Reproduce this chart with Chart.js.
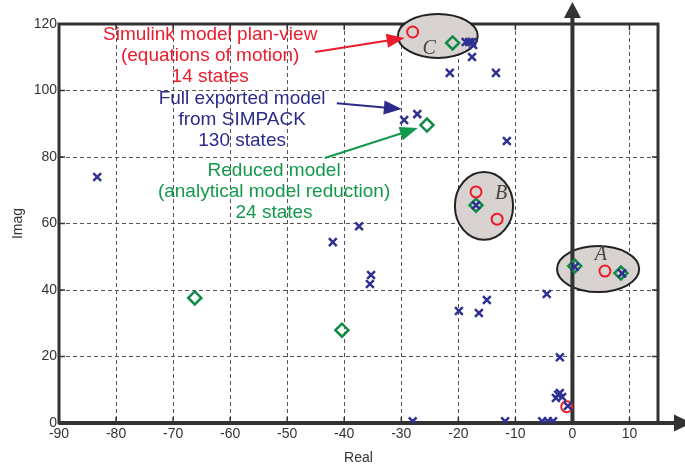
<!DOCTYPE html>
<html>
<head>
<meta charset="utf-8">
<script src="https://cdn.jsdelivr.net/npm/chart.js@4.4.1/dist/chart.umd.min.js"></script>
<style>html,body{margin:0;padding:0;background:#fff}</style>
</head>
<body>
<canvas id="pz-chart" width="685" height="471"></canvas>
<script>
// 目盛り
const xTicks = [-90, -80, -70, -60, -50, -40, -30, -20, -10, 0, 10];
const yTicks = [0, 20, 40, 60, 80, 100, 120];

// Full exported model (SIMPACK, 130 states)
const fullRe = [-83.3, -42.0, -37.4, -35.3, -35.5, -29.5, -27.2, -21.5, -18.7, -18.1, -17.6, -17.4, -17.6,
  -13.4, -11.5, -16.9, -19.9, -16.4, -15.0, -4.5, -2.2, -2.2, -2.9, -1.8, -2.5, -0.8, 0.4, 8.7,
  -28.0, -11.8, -5.3, -4.3, -3.4];
const fullIm = [74.0, 54.4, 59.2, 44.5, 41.8, 91.1, 92.9, 105.3, 114.6, 114.6, 114.6, 113.7, 110.1,
  105.3, 84.8, 65.5, 33.7, 33.1, 37.0, 38.8, 19.8, 9.0, 7.5, 7.8, 8.5, 5.1, 47.0, 45.0,
  0.5, 0.5, 0.5, 0.5, 0.5];

// Simulink model plan-view (14 states)
const simRe = [-28.0, -16.9, -13.2, 5.7, -1.0];
const simIm = [117.6, 69.5, 61.3, 45.7, 4.9];

// Reduced model (24 states)
const redRe = [-21.0, -25.5, -16.9, -66.2, -40.4, 0.4, 8.5];
const redIm = [114.3, 89.6, 65.5, 37.6, 27.9, 47.2, 45.1];

// 楕円で囲むグループ
const groupNames = ['C', 'B', 'A'];
const groupCx = [-23.6, -15.5, 4.5];
const groupCy = [116.4, 65.3, 46.3];
const groupRx = [7.0, 5.1, 7.2];
const groupRy = [6.6, 10.2, 6.9];
const groupLabelX = [-25.1, -12.5, 5.0];
const groupLabelY = [112.5, 68.9, 50.5];

// 注釈テキスト
const noteLines = [
  ['Simulink model plan-view', '(equations of motion)', '14 states'],
  ['Full exported model', 'from SIMPACK', '130 states'],
  ['Reduced model', '(analytical model reduction)', '24 states']
];
const noteX = [-63.5, -57.9, -52.3];
const noteY = [116.7, 97.4, 75.8];
const arrowFrom = [[-45.1, 111.6], [-41.3, 96.2], [-43.4, 79.7]];
const arrowTo = [[-29.4, 115.8], [-29.9, 94.4], [-27.1, 88.7]];
const noteColors = ['#ec1c2c', '#2b2b8c', '#13994b'];

function pts(re, im) {
  return re.map((v, i) => ({ x: v, y: im[i] }));
}

function line(ctx, x1, y1, x2, y2) {
  ctx.beginPath();
  ctx.moveTo(x1, y1);
  ctx.lineTo(x2, y2);
  ctx.stroke();
}

function tri(ctx, tx, ty, ang, len, half) {
  const bx = tx - Math.cos(ang) * len, by = ty - Math.sin(ang) * len;
  const nx = -Math.sin(ang) * half, ny = Math.cos(ang) * half;
  ctx.beginPath();
  ctx.moveTo(tx, ty);
  ctx.lineTo(bx + nx, by + ny);
  ctx.lineTo(bx - nx, by - ny);
  ctx.closePath();
  ctx.fill();
}

const deco = {
  id: 'deco',
  beforeDatasetsDraw(chart) {
    const { ctx, chartArea: a } = chart;
    const x = chart.scales.x, y = chart.scales.y;
    ctx.save();
    // 枠
    ctx.strokeStyle = '#333';
    ctx.lineWidth = 3;
    ctx.strokeRect(a.left, a.top, a.right - a.left, a.bottom - a.top);
    ctx.lineWidth = 1.5;
    xTicks.forEach(v => {
      const px = x.getPixelForValue(v);
      line(ctx, px, a.bottom, px, a.bottom - 6);
      line(ctx, px, a.top, px, a.top + 6);
    });
    yTicks.forEach(v => {
      const py = y.getPixelForValue(v);
      line(ctx, a.left, py, a.left + 6, py);
      line(ctx, a.right, py, a.right - 6, py);
    });
    // 楕円
    groupNames.forEach((g, i) => {
      const cx = x.getPixelForValue(groupCx[i]), cy = y.getPixelForValue(groupCy[i]);
      const rx = Math.abs(x.getPixelForValue(groupCx[i] + groupRx[i]) - cx);
      const ry = Math.abs(y.getPixelForValue(groupCy[i] + groupRy[i]) - cy);
      ctx.beginPath();
      ctx.ellipse(cx, cy, rx, ry, 0, 0, Math.PI * 2);
      ctx.fillStyle = '#d8d3d0';
      ctx.fill();
      ctx.lineWidth = 2;
      ctx.strokeStyle = '#222';
      ctx.stroke();
    });
    // 実軸・虚軸の矢印
    const x0 = x.getPixelForValue(0);
    ctx.strokeStyle = '#333';
    ctx.fillStyle = '#333';
    ctx.lineWidth = 4;
    line(ctx, x0, a.bottom, x0, 14);
    tri(ctx, x0, 2, -Math.PI / 2, 16, 8.5);
    line(ctx, a.left, a.bottom, 678, a.bottom);
    tri(ctx, 692, a.bottom, 0, 18, 8.5);
    // グループ記号
    ctx.font = 'italic 20px "Liberation Serif", "Times New Roman", serif';
    ctx.fillStyle = '#444';
    ctx.textAlign = 'center';
    ctx.textBaseline = 'middle';
    groupNames.forEach((g, i) => {
      ctx.fillText(g, x.getPixelForValue(groupLabelX[i]), y.getPixelForValue(groupLabelY[i]));
    });
    ctx.restore();
  },
  afterDatasetsDraw(chart) {
    const { ctx } = chart;
    const x = chart.scales.x, y = chart.scales.y;
    ctx.save();
    ctx.font = '19px "Liberation Sans", Arial, sans-serif';
    ctx.textAlign = 'center';
    ctx.textBaseline = 'middle';
    noteLines.forEach((lines, i) => {
      ctx.fillStyle = noteColors[i];
      ctx.strokeStyle = noteColors[i];
      const cx = x.getPixelForValue(noteX[i]);
      const cy = y.getPixelForValue(noteY[i]);
      lines.forEach((t, k) => ctx.fillText(t, cx, cy + k * 21));
      const fx = x.getPixelForValue(arrowFrom[i][0]), fy = y.getPixelForValue(arrowFrom[i][1]);
      const tx = x.getPixelForValue(arrowTo[i][0]), ty = y.getPixelForValue(arrowTo[i][1]);
      const ang = Math.atan2(ty - fy, tx - fx);
      ctx.lineWidth = 2;
      line(ctx, fx, fy, tx - Math.cos(ang) * 12, ty - Math.sin(ang) * 12);
      tri(ctx, tx, ty, ang, 18, 7);
    });
    ctx.restore();
  }
};

const tickFont = { family: '"Liberation Sans", Arial, sans-serif', size: 14 };

new Chart(document.getElementById('pz-chart').getContext('2d'), {
  type: 'scatter',
  data: {
    datasets: [
      {
        label: 'Full exported model',
        data: pts(fullRe, fullIm),
        pointStyle: 'crossRot',
        pointRadius: 5.5,
        borderWidth: 2.5,
        borderColor: '#2e3192',
        order: 0
      },
      {
        label: 'Simulink model',
        data: pts(simRe, simIm),
        pointStyle: 'circle',
        pointRadius: 5.5,
        borderWidth: 2,
        borderColor: '#ec1c24',
        backgroundColor: 'rgba(0,0,0,0)',
        order: 1
      },
      {
        label: 'Reduced model',
        data: pts(redRe, redIm),
        pointStyle: 'rectRot',
        pointRadius: 6.5,
        borderWidth: 2.5,
        borderColor: '#0f8a45',
        backgroundColor: 'rgba(0,0,0,0)',
        order: 2
      }
    ]
  },
  options: {
    responsive: false,
    animation: false,
    layout: { padding: { top: 24, right: 27, left: 0, bottom: 0 } },
    plugins: { legend: { display: false }, tooltip: { enabled: false } },
    scales: {
      x: {
        type: 'linear',
        min: -90,
        max: 15,
        afterBuildTicks: axis => { axis.ticks = xTicks.map(v => ({ value: v })); },
        afterFit: scale => { scale.height = 48; },
        ticks: { font: tickFont, color: '#333', padding: 3, maxRotation: 0, autoSkip: false },
        grid: { color: '#555', lineWidth: 1, drawTicks: false },
        border: { display: false, dash: [4, 3] },
        title: { display: true, text: 'Real', font: { family: tickFont.family, size: 14 }, color: '#333', padding: { top: 0, bottom: 4 } }
      },
      y: {
        type: 'linear',
        min: 0,
        max: 120,
        afterBuildTicks: axis => { axis.ticks = yTicks.map(v => ({ value: v })); },
        afterFit: scale => { scale.width = 59; },
        ticks: { font: tickFont, color: '#333', padding: 2 },
        grid: { color: '#555', lineWidth: 1, drawTicks: false },
        border: { display: false, dash: [4, 3] },
        title: { display: true, text: 'Imag', font: { family: tickFont.family, size: 14 }, color: '#333', padding: { top: 10, bottom: 0 } }
      }
    }
  },
  plugins: [deco]
});
</script>
</body>
</html>
